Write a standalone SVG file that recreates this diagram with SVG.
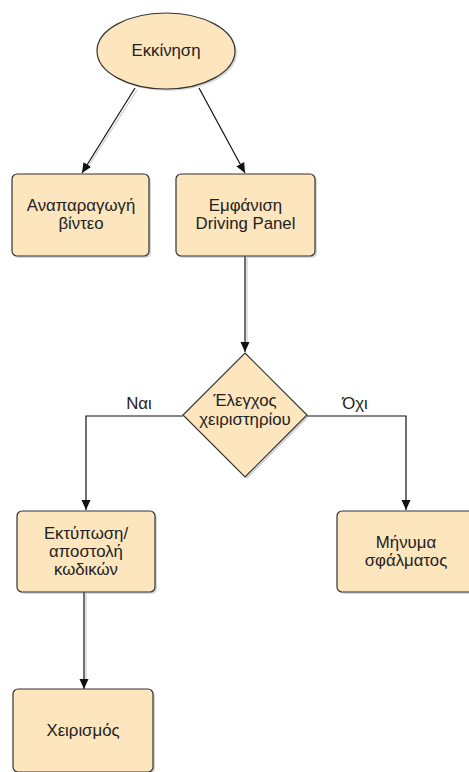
<svg xmlns="http://www.w3.org/2000/svg" width="469" height="772" viewBox="0 0 469 772">
<defs>
<style>
.shape{fill:#fde5bd;stroke:#333333;stroke-width:1.2}
.shadow{fill:#8a8a8a;opacity:0.35}
.lbl{font-family:"Liberation Sans",Arial,sans-serif;font-size:16.8px;fill:#222222;text-anchor:middle}
.edge{fill:none;stroke:#111111;stroke-width:1.2}
.eshadow{fill:none;stroke:#cccccc;stroke-width:1.2}
</style>
<marker id="arr" viewBox="0 0 10 10" refX="10" refY="5" markerWidth="10" markerHeight="10" markerUnits="userSpaceOnUse" orient="auto">
<path d="M0,0.5 L10,5 L0,9.5 Z" fill="#111111"/>
</marker>
</defs>
<rect width="469" height="772" fill="#ffffff"/>
<g id="connectors">
<path class="eshadow" d="M137,90 L86,170"/>
<path class="eshadow" d="M247,258 L247,342"/>
<path class="eshadow" d="M86,594 L86,680"/>
<path class="edge" d="M135,88 L82,173" marker-end="url(#arr)"/>
<path class="edge" d="M199,88 L245,173" marker-end="url(#arr)"/>
<path class="edge" d="M245,256 L245,352" marker-end="url(#arr)"/>
<path class="edge" d="M183,416 L86,416 L86,510" marker-end="url(#arr)"/>
<path class="edge" d="M307,416 L406,416 L406,510" marker-end="url(#arr)"/>
<path class="edge" d="M84,592 L84,689" marker-end="url(#arr)"/>
<text class="lbl" x="139" y="409">Ναι</text>
<text class="lbl" x="355" y="409">Όχι</text>
</g>
<g id="start">
<ellipse class="shadow" cx="168" cy="53" rx="69" ry="38"/>
<ellipse class="shape" cx="166" cy="51" rx="69" ry="38"/>
<text class="lbl" x="166" y="56">Εκκίνηση</text>
</g>
<g id="video">
<rect class="shadow" x="14" y="176" width="137" height="82" rx="5"/>
<rect class="shape" x="12" y="174" width="137" height="82" rx="5"/>
<text class="lbl" x="81" y="211">Αναπαραγωγή</text>
<text class="lbl" x="81" y="229">βίντεο</text>
</g>
<g id="panel">
<rect class="shadow" x="178" y="176" width="139" height="82" rx="5"/>
<rect class="shape" x="176" y="174" width="139" height="82" rx="5"/>
<text class="lbl" x="245.5" y="211">Εμφάνιση</text>
<text class="lbl" x="245.5" y="229">Driving Panel</text>
</g>
<g id="check">
<polygon class="shadow" points="247,355 309,417 247,479 185,417"/>
<polygon class="shape" points="245,353 307,415 245,477 183,415"/>
<text class="lbl" x="245" y="406">Έλεγχος</text>
<text class="lbl" x="245" y="425">χειριστηρίου</text>
</g>
<g id="print">
<rect class="shadow" x="19" y="513" width="138" height="81" rx="5"/>
<rect class="shape" x="17" y="511" width="138" height="81" rx="5"/>
<text class="lbl" x="86" y="539">Εκτύπωση/</text>
<text class="lbl" x="86" y="557">αποστολή</text>
<text class="lbl" x="86" y="575">κωδικών</text>
</g>
<g id="error">
<rect class="shadow" x="339" y="513" width="139" height="81" rx="5"/>
<rect class="shape" x="337" y="511" width="139" height="81" rx="5"/>
<text class="lbl" x="406" y="548">Μήνυμα</text>
<text class="lbl" x="406" y="566">σφάλματος</text>
</g>
<g id="operate">
<rect class="shadow" x="15" y="691" width="140" height="83" rx="5"/>
<rect class="shape" x="13" y="689" width="140" height="83" rx="5"/>
<text class="lbl" x="83" y="736">Χειρισμός</text>
</g>
</svg>
